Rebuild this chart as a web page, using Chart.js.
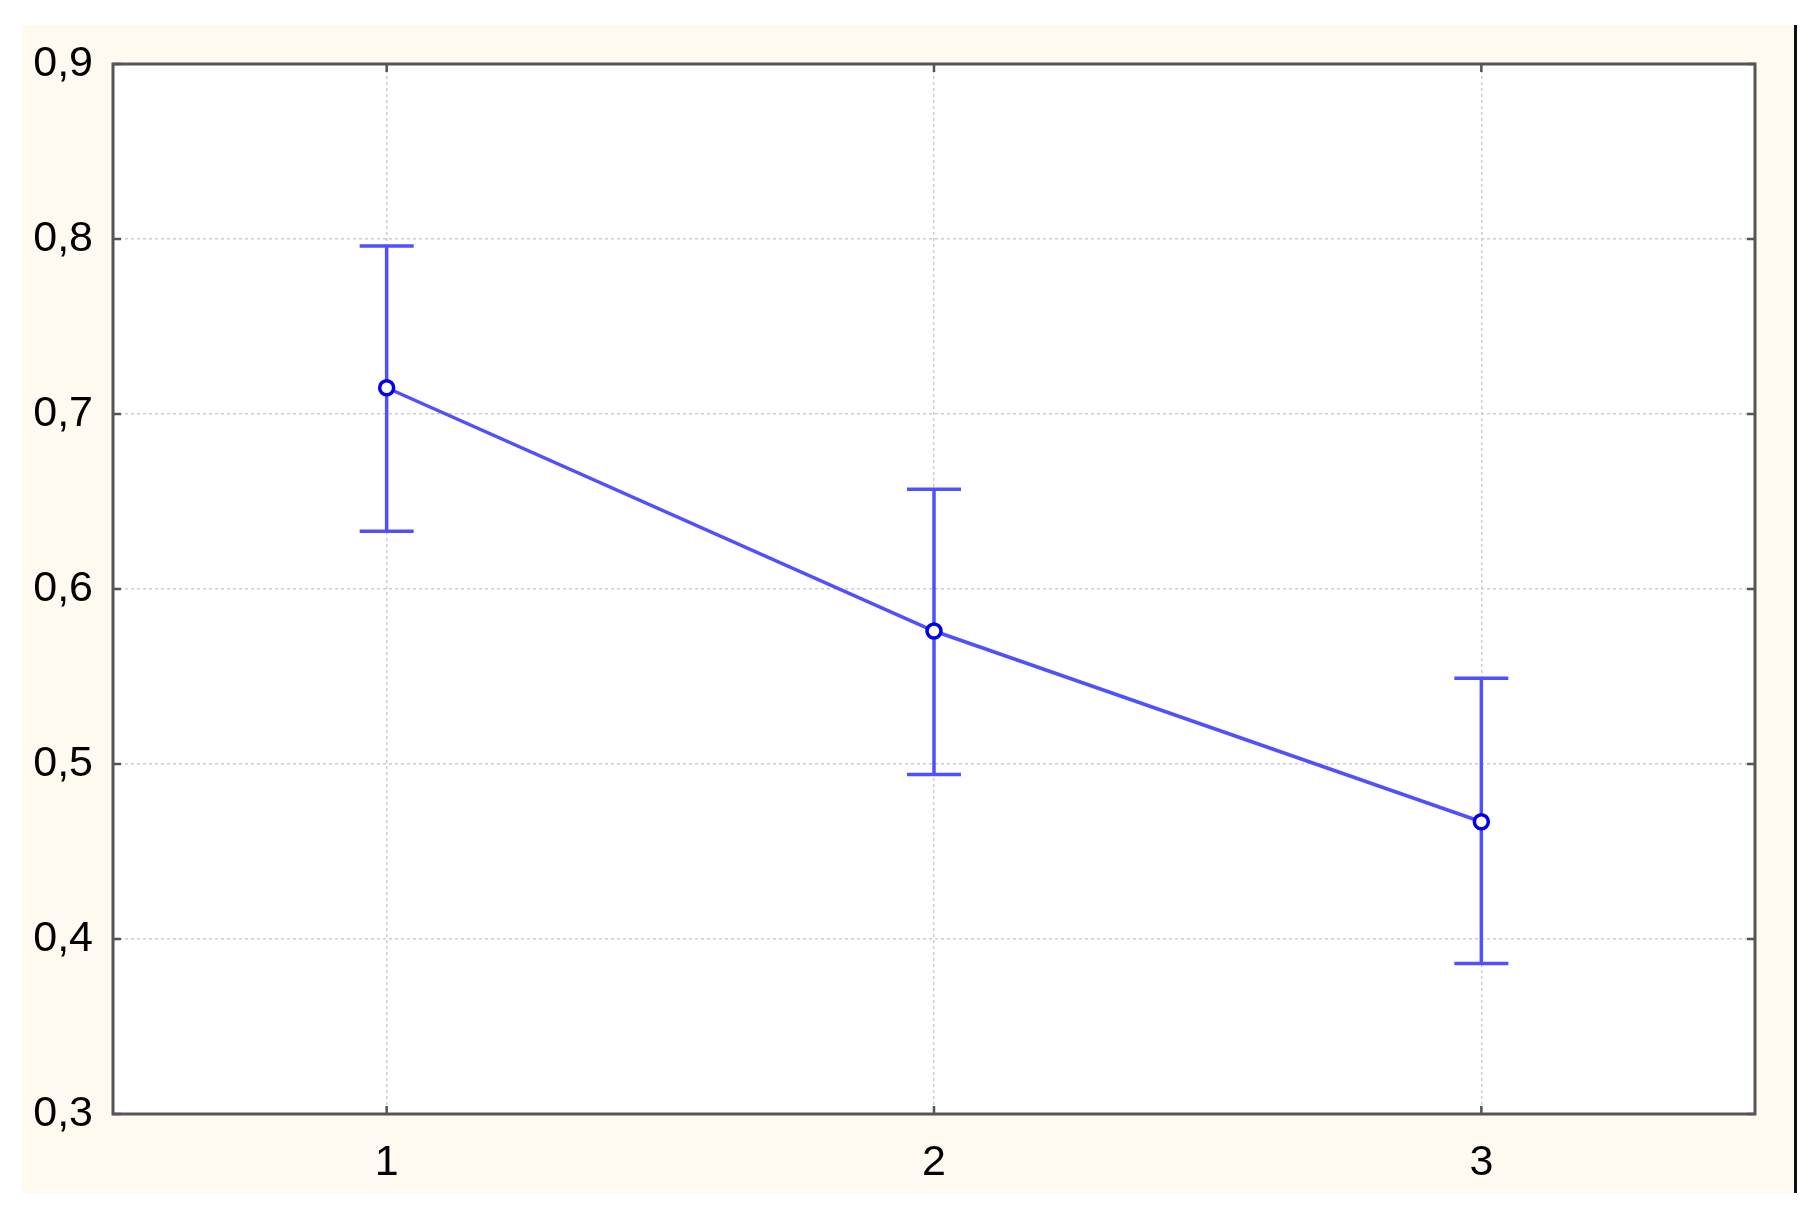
<!DOCTYPE html>
<html>
<head>
<meta charset="utf-8">
<script src="https://cdn.jsdelivr.net/npm/chart.js@4"></script>
<style>
  html, body { margin: 0; padding: 0; background: #ffffff; }
  #wrap { width: 1811px; height: 1217px; }
</style>
</head>
<body>
<div id="wrap"><canvas id="myChart" width="1811" height="1217"></canvas></div>
<script>
// data
const categories = ["1", "2", "3"];
const means = [0.715, 0.576, 0.467];
const upper = [0.796, 0.657, 0.549];
const lower = [0.633, 0.494, 0.386];
const yTicks = [0.3, 0.4, 0.5, 0.6, 0.7, 0.8, 0.9];
const yTickLabels = ["0,3", "0,4", "0,5", "0,6", "0,7", "0,8", "0,9"];

const lineBlue = "rgba(80, 80, 255, 1)";
const frameGray = "#555555";

// cream panel behind the plot, white plot area
const backdrop = {
  id: "backdrop",
  beforeDraw(chart) {
    const { ctx, chartArea: a } = chart;
    ctx.save();
    ctx.fillStyle = "#fefaf0";
    ctx.fillRect(22, 25, 1773, 1168);
    ctx.fillStyle = "#ffffff";
    ctx.fillRect(a.left, a.top, a.right - a.left, a.bottom - a.top);
    ctx.fillStyle = "#111111";
    ctx.fillRect(1794, 25, 3, 1168);
    ctx.restore();
  },
};

// whiskers with caps, from the lower/upper arrays
const errorBars = {
  id: "errorBars",
  beforeDatasetsDraw(chart) {
    const { ctx } = chart;
    const x = chart.scales.x;
    const y = chart.scales.y;
    const half = 27;
    ctx.save();
    ctx.strokeStyle = lineBlue;
    ctx.lineWidth = 3.5;
    categories.forEach((c, i) => {
      const px = x.getPixelForValue(i);
      const top = y.getPixelForValue(upper[i]);
      const bot = y.getPixelForValue(lower[i]);
      ctx.beginPath();
      ctx.moveTo(px, top);
      ctx.lineTo(px, bot);
      ctx.moveTo(px - half, top);
      ctx.lineTo(px + half, top);
      ctx.moveTo(px - half, bot);
      ctx.lineTo(px + half, bot);
      ctx.stroke();
    });
    ctx.restore();
  },
};

// closed frame with inward tick marks on all four sides
const frame = {
  id: "frame",
  afterDraw(chart) {
    const { ctx, chartArea: a } = chart;
    const x = chart.scales.x;
    const y = chart.scales.y;
    const len = 8;
    ctx.save();
    ctx.strokeStyle = frameGray;
    ctx.lineWidth = 3;
    ctx.strokeRect(a.left, a.top, a.right - a.left, a.bottom - a.top);
    ctx.lineWidth = 2.5;
    ctx.beginPath();
    yTicks.forEach((v) => {
      const py = y.getPixelForValue(v);
      ctx.moveTo(a.left, py);
      ctx.lineTo(a.left + len, py);
      ctx.moveTo(a.right, py);
      ctx.lineTo(a.right - len, py);
    });
    categories.forEach((c, i) => {
      const px = x.getPixelForValue(i);
      ctx.moveTo(px, a.top);
      ctx.lineTo(px, a.top + len);
      ctx.moveTo(px, a.bottom);
      ctx.lineTo(px, a.bottom - len);
    });
    ctx.stroke();
    ctx.restore();
  },
};

const data = {
  labels: categories,
  datasets: [
    {
      data: means,
      borderColor: lineBlue,
      borderWidth: 3.5,
      pointRadius: 7,
      pointBorderWidth: 3.5,
      pointBorderColor: "#0000ee",
      pointBackgroundColor: "#ffffff",
      tension: 0,
    },
  ],
};

const tickFont = { family: "'Liberation Sans', Arial, sans-serif", size: 43 };

const config = {
  type: "line",
  data: data,
  plugins: [backdrop, errorBars, frame],
  options: {
    responsive: false,
    animation: false,
    layout: { padding: { top: 64, right: 56, left: 0, bottom: 0 } },
    plugins: { legend: { display: false }, tooltip: { enabled: false } },
    scales: {
      x: {
        type: "category",
        offset: true,
        grid: {
          offset: false,
          drawTicks: false,
          color: "#cccccc",
          lineWidth: 1.5,
        },
        border: { display: false, dash: [3, 3] },
        ticks: { font: tickFont, color: "#000000", padding: 23, maxRotation: 0 },
        afterFit(scale) { scale.height = 103; },
      },
      y: {
        min: 0.3,
        max: 0.9,
        afterBuildTicks(scale) { scale.ticks = yTicks.map((v) => ({ value: v })); },
        grid: { drawTicks: false, color: "#cccccc", lineWidth: 1.5 },
        border: { display: false, dash: [3, 3] },
        ticks: {
          font: tickFont,
          color: "#000000",
          padding: 20,
          callback: (v) => yTickLabels[yTicks.findIndex((t) => Math.abs(t - v) < 1e-6)],
        },
        afterFit(scale) { scale.width = 113; },
      },
    },
  },
};

const ctx = document.getElementById("myChart").getContext("2d");
new Chart(ctx, config);
</script>
</body>
</html>
